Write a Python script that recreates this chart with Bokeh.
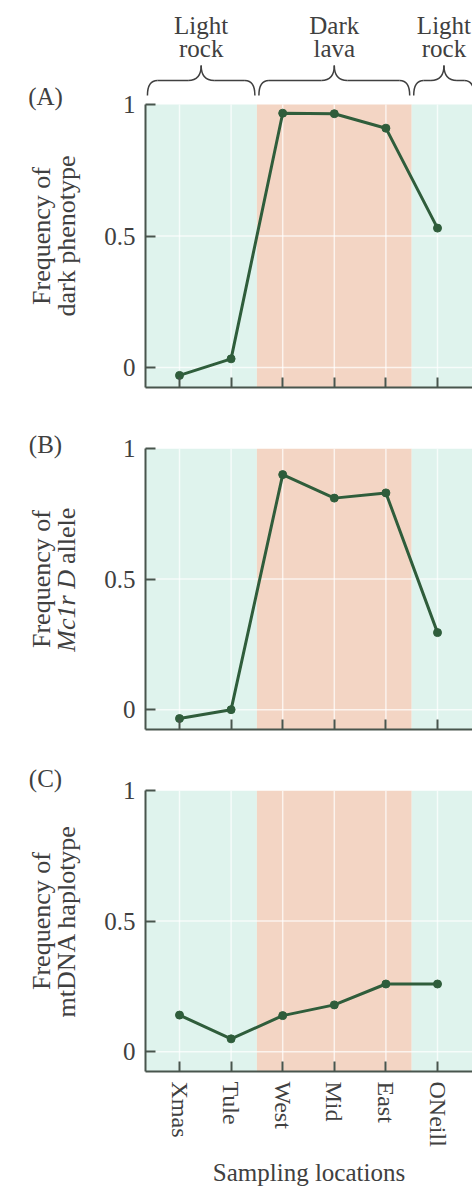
import math
from bokeh.plotting import figure
from bokeh.layouts import column, row
from bokeh.models import Range1d, FixedTicker
from bokeh.embed import file_html
from bokeh.resources import INLINE
from bokeh.core.properties import value

# ---------------- data ----------------
locations = ["Xmas", "Tule", "West", "Mid", "East", "ONeill"]
dark_phenotype = [-0.03, 0.033, 0.967, 0.965, 0.91, 0.53]
mc1r_allele = [-0.034, 0.0, 0.90, 0.81, 0.83, 0.295]
mtdna_haplotype = [0.14, 0.049, 0.138, 0.179, 0.259, 0.259]
y_ticks = [0, 0.5, 1]
y_tick_labels = ["0", "0.5", "1"]
habitat_top = ["Light", "Dark", "Light"]
habitat_bottom = ["rock", "lava", "rock"]
habitat_kind = ["light", "dark", "light"]
habitat_edges = [-0.66, 1.5, 4.5, 5.75]
panel_letters = ["(A)", "(B)", "(C)"]
title_line1 = ["Frequency of", "Frequency of", "Frequency of"]
title_line2 = ["dark phenotype", None, "mtDNA haplotype"]
title_b_italic = "Mc1r D"
title_b_regular = "allele"

# ---------------- style ----------------
FONT = "Liberation Serif"
FS = "25px"
TEXT = "#404040"
MINT = "#dff3ed"
LAVA = "#f3d5c4"
GREEN = "#2f5d3b"
AXIS = "#48554d"

TOTAL_W, TOTAL_H = 472, 1190
TITLE_W = 98                     # left strip holding panel letters and y titles
W = TOTAL_W - TITLE_W
LEFT = 47
FRAME_W = W - LEFT
PX_X = 51.6                      # pixels per location step
X0 = -34 / PX_X
X1 = X0 + FRAME_W / PX_X
YLO = -0.076

xs = list(range(len(locations)))


def make_panel(height, top, bottom, y_hi, values, last=False):
    p = figure(width=W, height=height, x_range=Range1d(X0, X1), y_range=Range1d(YLO, y_hi),
               output_backend="svg", toolbar_location=None,
               min_border_left=LEFT, min_border_right=0,
               min_border_top=top, min_border_bottom=bottom)
    p.outline_line_color = None
    p.grid.visible = False
    p.background_fill_color = "white"
    p.border_fill_color = "white"

    colors = [MINT if k == "light" else LAVA for k in habitat_kind]
    p.quad(left=habitat_edges[:-1], right=habitat_edges[1:], bottom=YLO, top=1,
           fill_color=colors, line_color=None)
    p.segment(x0=xs, y0=[YLO] * len(xs), x1=xs, y1=[1] * len(xs),
              line_color="white", line_alpha=0.7, line_width=1.5)
    hy = y_ticks[:-1]
    p.segment(x0=[habitat_edges[0]] * len(hy), y0=hy, x1=[habitat_edges[-1]] * len(hy), y1=hy,
              line_color="white", line_alpha=0.7, line_width=1.5)

    p.line(xs, values, line_color=GREEN, line_width=3)
    p.scatter(xs, values, size=8, fill_color=GREEN, line_color=GREEN)

    ya = p.yaxis[0]
    ya.ticker = FixedTicker(ticks=y_ticks)
    ya.major_label_overrides = {t: l for t, l in zip(y_ticks, y_tick_labels)}
    ya.bounds = (YLO, 1)
    ya.major_tick_in = 10
    ya.major_tick_out = 0
    ya.minor_tick_line_color = None
    ya.axis_line_color = AXIS
    ya.axis_line_width = 2
    ya.major_tick_line_color = AXIS
    ya.major_tick_line_width = 2
    ya.major_label_text_font = FONT
    ya.major_label_text_font_size = FS
    ya.major_label_text_color = TEXT
    ya.major_label_standoff = 10

    xa = p.xaxis[0]
    xa.ticker = FixedTicker(ticks=xs)
    xa.major_tick_in = 10
    xa.major_tick_out = 0
    xa.minor_tick_line_color = None
    xa.axis_line_color = AXIS
    xa.axis_line_width = 2
    xa.major_tick_line_color = AXIS
    xa.major_tick_line_width = 2
    if last:
        xa.major_label_overrides = {i: n for i, n in zip(xs, locations)}
        xa.major_label_orientation = "vertical"
        xa.major_label_text_font = FONT
        xa.major_label_text_font_size = "24px"
        xa.major_label_text_color = TEXT
        xa.major_label_standoff = 10
        xa.axis_label = "Sampling locations"
        xa.axis_label_text_font = FONT
        xa.axis_label_text_font_size = FS
        xa.axis_label_text_font_style = "normal"
        xa.axis_label_text_color = TEXT
        xa.axis_label_standoff = 9
    else:
        xa.major_label_overrides = {i: "" for i in xs}
        xa.major_label_standoff = 0
    return p


# ---------- panel geometry (pixels) ----------
HA, TA, BA = 407, 0, 20
HB, TB, BB = 342, 41, 20
HC, TC = TOTAL_H - HA - HB, 41
FRAME_B = 281
PX_YA = 263.0
PX_YB = FRAME_B / (1 - YLO)
YHI_A = YLO + (HA - TA - BA) / PX_YA
BC = HC - TC - round(PX_YB * (1 - YLO))

pa = make_panel(HA, TA, BA, YHI_A, dark_phenotype)
pb = make_panel(HB, TB, BB, 1.0, mc1r_allele)
pc = make_panel(HC, TC, BC, 1.0, mtdna_haplotype, last=True)


def up(px):
    return 1 + px / PX_YA


# habitat braces over panel A
gap = 2 / PX_X
r_end = 10 / PX_X
r_tip = 13 / PX_X
yb, yh, yt = up(9), up(24), up(39)
q = dict(x0=[], y0=[], x1=[], y1=[], cx=[], cy=[])
seg = dict(x0=[], y0=[], x1=[], y1=[])
mids = []
for a, b in zip(habitat_edges[:-1], habitat_edges[1:]):
    l, r = a + gap, b - gap
    m = (a + b) / 2
    mids.append(m)
    for (ex, sgn) in ((l, 1), (r, -1)):
        q["x0"].append(ex); q["y0"].append(yb)
        q["x1"].append(ex + sgn * r_end); q["y1"].append(yh)
        q["cx"].append(ex); q["cy"].append(yh)
        q["x0"].append(m - sgn * r_tip); q["y0"].append(yh)
        q["x1"].append(m); q["y1"].append(yt)
        q["cx"].append(m); q["cy"].append(yh)
    seg["x0"] += [l + r_end, m + r_tip]
    seg["x1"] += [m - r_tip, r - r_end]
    seg["y0"] += [yh, yh]
    seg["y1"] += [yh, yh]
pa.quadratic(**q, line_color=TEXT, line_width=1.5)
pa.segment(**seg, line_color=TEXT, line_width=1.5)
pa.text(x=mids, y=[up(79)] * 3, text=habitat_top, text_font=value(FONT), text_font_size=FS,
        text_color=TEXT, text_align="center", text_baseline="middle")
pa.text(x=mids, y=[up(56)] * 3, text=habitat_bottom, text_font=value(FONT), text_font_size=FS,
        text_color=TEXT, text_align="center", text_baseline="middle")

# ---------- left strip: panel letters and y titles ----------
t = figure(width=TITLE_W, height=TOTAL_H, x_range=Range1d(0, TITLE_W), y_range=Range1d(0, TOTAL_H),
           output_backend="svg", toolbar_location=None, x_axis_location=None, y_axis_location=None,
           min_border=0)
t.outline_line_color = None
t.grid.visible = False

centres = [TA + (YHI_A - 0.5) * PX_YA,
           HA + TB + 0.5 * PX_YB,
           HA + HB + TC + 0.5 * PX_YB]
letter_tops = [96, HA + 37, HA + HB + 29]


def flip(v):
    return TOTAL_H - v


t.text(x=[45] * 3, y=[flip(v) for v in letter_tops], text=panel_letters,
       text_font=value(FONT), text_font_size=FS, text_color=TEXT,
       text_align="center", text_baseline="middle")
t.text(x=[41] * 3, y=[flip(c) for c in centres], text=title_line1, angle=math.pi / 2,
       text_font=value(FONT), text_font_size="26px", text_color=TEXT,
       text_align="center", text_baseline="middle")
l2x = [66, 66]
l2y = [flip(centres[0]), flip(centres[2])]
t.text(x=l2x, y=l2y, text=[title_line2[0], title_line2[2]], angle=math.pi / 2,
       text_font=value(FONT), text_font_size="26px", text_color=TEXT,
       text_align="center", text_baseline="middle")
t.text(x=[66], y=[flip(centres[1]) + 9], text=[title_b_italic], angle=math.pi / 2,
       text_font=value(FONT), text_font_size="26px", text_font_style="italic", text_color=TEXT,
       text_align="right", text_baseline="middle")
t.text(x=[66], y=[flip(centres[1]) + 15], text=[title_b_regular], angle=math.pi / 2,
       text_font=value(FONT), text_font_size="26px", text_color=TEXT,
       text_align="left", text_baseline="middle")

layout = row(t, column(pa, pb, pc, spacing=0), spacing=0)
open("out.html", "w").write(file_html(layout, INLINE))
